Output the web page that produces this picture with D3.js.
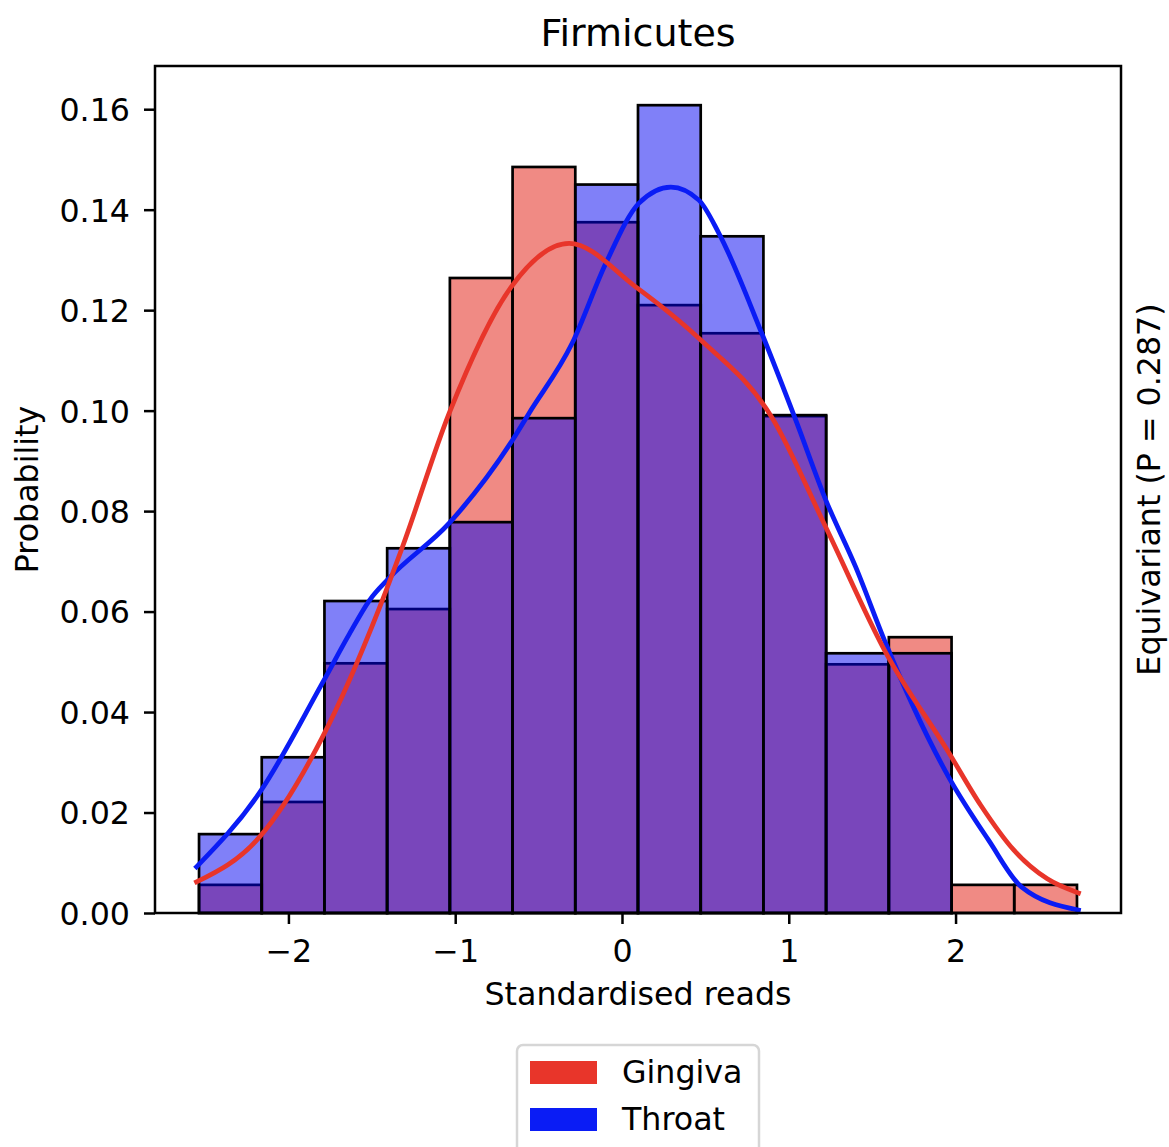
<!DOCTYPE html>
<html>
<head>
<meta charset="utf-8">
<script src="https://cdn.jsdelivr.net/npm/d3@7"></script>
<style>
  body { margin: 0; background: #fff; }
  text { font-family: "DejaVu Sans", sans-serif; fill: #000; }
</style>
</head>
<body>
<div id="chart"></div>
<script>
'use strict';

// histogram bins (shared edges) and probabilities per group
var binEdges = [-2.536, -2.160, -1.784, -1.408, -1.032, -0.656, -0.280, 0.096,
                0.472, 0.848, 1.224, 1.600, 1.976, 2.352, 2.728];
var gingivaProb = [0.0056, 0.0221, 0.0497, 0.0605, 0.1264, 0.1485, 0.1375,
                   0.1210, 0.1154, 0.0989, 0.0495, 0.0549, 0.0056, 0.0056];
var throatProb = [0.0157, 0.0310, 0.0621, 0.0726, 0.0778, 0.0985, 0.1450,
                  0.1608, 0.1347, 0.0991, 0.0517, 0.0517, 0, 0];

// kde curves
var gingivaKdeX = [-2.551, -2.174, -1.796, -1.455, -1.317, -1.036, -0.665, -0.317,
                   0.084, 0.461, 0.898, 1.222, 1.581, 1.958, 2.150, 2.350, 2.550, 2.737];
var gingivaKdeY = [0.0062, 0.0151, 0.0350, 0.0607, 0.0728, 0.0995, 0.1246, 0.1333,
                   0.1246, 0.1144, 0.0987, 0.0768, 0.0519, 0.0320, 0.0215, 0.0125, 0.0068, 0.0040];
var throatKdeX = [-2.551, -2.174, -1.796, -1.635, -1.515, -1.395, -1.036, -0.659, -0.557,
                  -0.299, -0.096, 0.102, 0.293, 0.461, 0.581, 0.838, 1.042, 1.222,
                  1.401, 1.581, 1.958, 2.198, 2.395, 2.737];
var throatKdeY = [0.0092, 0.0239, 0.0458, 0.0555, 0.0622, 0.0667, 0.0776, 0.0940, 0.0995,
                  0.1134, 0.1294, 0.1413, 0.1445, 0.1419, 0.1353, 0.1154, 0.0981, 0.0822,
                  0.0689, 0.0537, 0.0271, 0.0145, 0.0052, 0.0006];

var xTicks = [-2, -1, 0, 1, 2];
var yTicks = [0, 0.02, 0.04, 0.06, 0.08, 0.10, 0.12, 0.14, 0.16];
var groups = ['Gingiva', 'Throat'];

var width = 1169, height = 1147;
var plotLeft = 155, plotRight = 1121, plotTop = 66, plotBottom = 913;

var svg = d3.select('#chart').append('svg')
  .attr('width', width)
  .attr('height', height);

var xScale = d3.scaleLinear()
  .domain([-2.800, 2.992])
  .range([plotLeft, plotRight]);

var yScale = d3.scaleLinear()
  .domain([0, 0.1686])
  .range([plotBottom, plotTop]);

function bars(probs, color) {
  var data = probs.map(function(p, i){ return {x0: binEdges[i], x1: binEdges[i+1], p: p}; });
  svg.append('g').selectAll('rect')
      .data(data)
    .enter().append('rect')
      .attr('x', function(d){ return xScale(d.x0); })
      .attr('y', function(d){ return yScale(d.p); })
      .attr('width', function(d){ return xScale(d.x1) - xScale(d.x0); })
      .attr('height', function(d){ return yScale(0) - yScale(d.p); })
      .attr('fill', color)
      .attr('fill-opacity', 0.5)
      .attr('stroke', '#000')
      .attr('stroke-width', 2.7);
}

bars(gingivaProb, '#e1150a');
bars(throatProb, '#0202f2');

var line = d3.line()
  .x(function(d){ return xScale(d[0]); })
  .y(function(d){ return yScale(d[1]); })
  .curve(d3.curveMonotoneX);

svg.append('path')
  .attr('d', line(d3.zip(throatKdeX, throatKdeY)))
  .attr('fill', 'none')
  .attr('stroke', '#0a1cf5')
  .attr('stroke-width', 4.75)
  .attr('stroke-linecap', 'square');

svg.append('path')
  .attr('d', line(d3.zip(gingivaKdeX, gingivaKdeY)))
  .attr('fill', 'none')
  .attr('stroke', '#e8352a')
  .attr('stroke-width', 4.75)
  .attr('stroke-linecap', 'square');

// axes
var xAxis = svg.append('g')
  .attr('transform', 'translate(0,' + plotBottom + ')')
  .call(d3.axisBottom(xScale).tickValues(xTicks).tickSize(11).tickPadding(11).tickFormat(d3.format('d')));

var yAxis = svg.append('g')
  .attr('transform', 'translate(' + plotLeft + ',0)')
  .call(d3.axisLeft(yScale).tickValues(yTicks).tickSize(11).tickPadding(14).tickFormat(d3.format('.2f')));

[xAxis, yAxis].forEach(function(a){
  a.select('.domain').remove();
  a.selectAll('line').attr('stroke', '#000').attr('stroke-width', 2.5);
  a.selectAll('text')
    .attr('font-family', '"DejaVu Sans", sans-serif')
    .attr('font-size', 31.7)
    .attr('fill', '#000');
});
xAxis.selectAll('text').attr('dy', null).attr('y', 49);
yAxis.selectAll('text').attr('dy', '0.36em');

// frame
svg.append('rect')
  .attr('x', plotLeft)
  .attr('y', plotTop)
  .attr('width', plotRight - plotLeft)
  .attr('height', plotBottom - plotTop)
  .attr('fill', 'none')
  .attr('stroke', '#000')
  .attr('stroke-width', 2.5);

// labels
svg.append('text')
  .attr('x', (plotLeft + plotRight) / 2)
  .attr('y', 46)
  .attr('text-anchor', 'middle')
  .attr('font-size', 38)
  .text('Firmicutes');

svg.append('text')
  .attr('x', (plotLeft + plotRight) / 2)
  .attr('y', 1005)
  .attr('text-anchor', 'middle')
  .attr('font-size', 31.7)
  .text('Standardised reads');

svg.append('text')
  .attr('transform', 'translate(38,' + (plotTop + plotBottom) / 2 + ') rotate(-90)')
  .attr('text-anchor', 'middle')
  .attr('font-size', 31.7)
  .text('Probability');

svg.append('text')
  .attr('transform', 'translate(1160,' + (plotTop + plotBottom) / 2 + ') rotate(-90)')
  .attr('text-anchor', 'middle')
  .attr('font-size', 31.7)
  .text('Equivariant (P = 0.287)');

// legend
var legendColors = ['#e8352a', '#0a1cf5'];
var legend = svg.append('g');
legend.append('rect')
  .attr('x', 517)
  .attr('y', 1045)
  .attr('width', 242)
  .attr('height', 130)
  .attr('rx', 6)
  .attr('fill', '#fff')
  .attr('fill-opacity', 0.8)
  .attr('stroke', '#d6d6d6')
  .attr('stroke-width', 2.5);

var items = legend.selectAll('.item')
    .data(groups)
  .enter().append('g')
    .attr('class', 'item')
    .attr('transform', function(d, i){ return 'translate(0,' + (i * 47) + ')'; });

items.append('rect')
  .attr('x', 530)
  .attr('y', 1061)
  .attr('width', 67)
  .attr('height', 23)
  .attr('fill', function(d, i){ return legendColors[i]; });

items.append('text')
  .attr('x', 622)
  .attr('y', 1083)
  .attr('font-size', 31.7)
  .text(function(d){ return d; });
</script>
</body>
</html>
